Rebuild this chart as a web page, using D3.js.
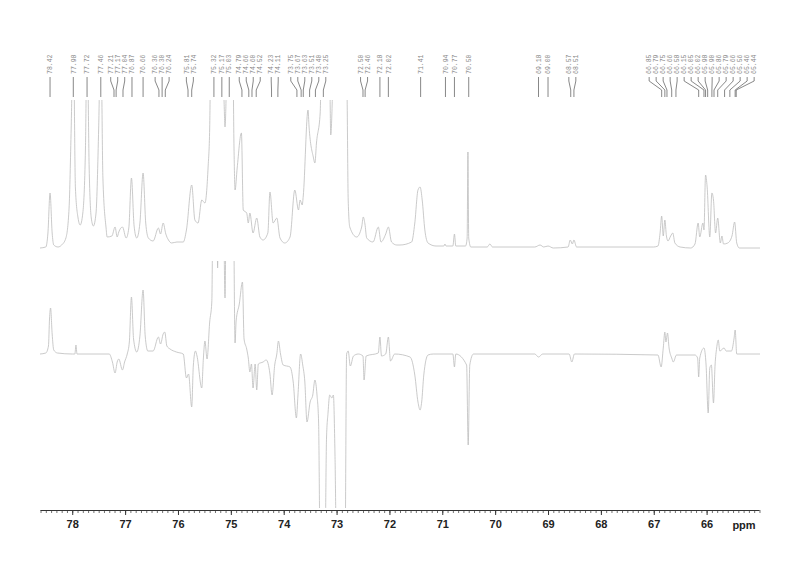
<!DOCTYPE html>
<html><head><meta charset="utf-8">
<script src="https://cdn.jsdelivr.net/npm/d3@7"></script>
<style>body{margin:0;background:#fff}</style>
</head><body>
<svg id="c" width="800" height="565"></svg>
<script>
const peakLabels = [78.42,77.98,77.72,77.46,77.21,77.17,77.04,76.87,76.66,76.36,76.30,76.24,75.81,75.74,
  75.32,75.17,75.03,74.79,74.66,74.60,74.52,74.23,74.11,73.75,73.67,73.63,73.51,73.40,73.25,
  72.50,72.46,72.18,72.02,71.41,70.94,70.77,70.50,69.18,69.00,68.57,68.51,
  66.85,66.79,66.75,66.66,66.58,66.15,66.05,66.02,65.98,65.90,65.86,65.79,65.66,65.56,65.46,65.44];
const majorTicks = [78,77,76,75,74,73,72,71,70,69,68,67,66];
const axisUnit = "ppm";

// upper spectrum: [ppm, intensity]
const topTrace = [[78.61,0],[78.50,1],[78.46,15],[78.42,55],[78.38,15],[78.35,3],[78.27,1],[78.20,3],[78.12,10],[78.06,40],[78.02,120],[77.98,220],[77.94,60],[77.89,30],[77.85,23],[77.80,35],[77.75,100],[77.72,220],[77.68,80],[77.64,30],[77.60,22],[77.55,35],[77.50,120],[77.46,220],[77.42,70],[77.36,20],[77.34,11],[77.25,12],[77.19,21],[77.15,11],[77.12,16],[77.05,21],[76.98,10],[76.93,20],[76.88,70],[76.83,22],[76.78,10],[76.72,25],[76.66,75],[76.61,25],[76.56,10],[76.47,7],[76.37,20],[76.33,14],[76.28,25],[76.23,14],[76.18,8],[76.12,5],[76.02,6],[75.90,6],[75.84,18],[75.74,63],[75.68,28],[75.62,25],[75.55,48],[75.49,45],[75.43,81],[75.40,120],[75.36,300],[75.22,300],[75.13,150],[75.11,121],[75.09,150],[75.05,300],[74.98,300],[74.94,100],[74.92,58],[74.88,80],[74.80,115],[74.765,38],[74.70,35],[74.67,25],[74.64,35],[74.58,15],[74.51,30],[74.45,11],[74.39,8],[74.30,15],[74.26,56],[74.20,25],[74.13,30],[74.07,10],[73.98,5],[73.88,11],[73.79,58],[73.72,38],[73.69,48],[73.65,43],[73.63,52],[73.54,138],[73.52,121],[73.44,91],[73.41,85],[73.38,105],[73.31,135],[73.26,300],[73.14,300],[73.12,140],[73.11,113],[73.08,150],[73.03,300],[72.84,300],[72.80,150],[72.78,48],[72.75,21],[72.62,11],[72.525,21],[72.495,31],[72.463,24],[72.43,10],[72.31,6],[72.21,21],[72.16,6],[72.07,14],[72.02,21],[71.96,6],[71.86,3],[71.80,3],[71.58,6],[71.52,25],[71.46,58],[71.42,61],[71.38,48],[71.33,18],[71.27,5],[71.12,2],[70.97,2],[70.95,4],[70.93,2],[70.80,2],[70.77,14],[70.745,2],[70.56,2],[70.53,10],[70.515,96],[70.50,10],[70.46,1],[70.15,1],[70.10,4],[70.05,1],[69.25,1],[69.15,3],[69.08,1],[69.00,2],[68.90,0],[68.62,1],[68.58,8],[68.54,4],[68.51,8],[68.46,1],[67.00,1],[66.92,2],[66.88,15],[66.85,32],[66.82,12],[66.79,28],[66.76,12],[66.73,7],[66.68,12],[66.64,15],[66.60,5],[66.50,1],[66.30,0],[66.22,4],[66.16,25],[66.13,11],[66.07,25],[66.05,18],[66.02,73],[65.99,61],[65.94,11],[65.90,55],[65.87,48],[65.83,15],[65.79,30],[65.74,5],[65.71,12],[65.68,4],[65.60,5],[65.52,12],[65.47,26],[65.43,5],[65.38,0],[64.99,0]];

// lower spectrum: [ppm, intensity]
const bottomTrace = [[78.61,0],[78.50,1],[78.45,8],[78.43,35],[78.41,46],[78.38,20],[78.35,4],[78.28,1],[78.00,0],[77.95,0],[77.93,9],[77.91,0],[77.30,0],[77.24,-8],[77.19,-19],[77.15,-8],[77.12,-5],[77.05,-16],[77.01,-8],[76.96,0],[76.92,12],[76.88,57],[76.84,15],[76.78,2],[76.72,18],[76.66,64],[76.62,18],[76.57,3],[76.47,3],[76.37,17],[76.33,10],[76.28,20],[76.25,22],[76.21,8],[76.15,5],[76.03,2],[75.90,0],[75.84,-24],[75.80,-20],[75.74,-53],[75.71,-12],[75.67,3],[75.64,-2],[75.55,-34],[75.52,-5],[75.49,13],[75.45,-5],[75.40,32],[75.36,52],[75.33,200],[75.27,200],[75.25,86],[75.23,200],[75.15,200],[75.11,56],[75.08,200],[74.96,200],[74.92,11],[74.90,33],[74.84,50],[74.78,72],[74.75,15],[74.70,5],[74.67,-4],[74.64,-18],[74.61,-10],[74.58,-34],[74.54,-10],[74.51,-36],[74.48,-10],[74.39,-8],[74.33,-6],[74.26,-20],[74.22,-41],[74.17,-11],[74.13,0],[74.10,13],[74.06,0],[74.01,-11],[73.88,-13],[73.82,-28],[73.76,-64],[73.73,-41],[73.68,0],[73.64,-11],[73.60,-28],[73.56,-68],[73.50,-48],[73.45,-41],[73.41,-26],[73.37,-41],[73.34,-68],[73.31,-200],[73.22,-200],[73.19,-84],[73.16,-58],[73.13,-41],[73.09,-44],[73.06,-41],[73.03,-100],[73.00,-200],[72.84,-200],[72.81,0],[72.78,3],[72.74,-12],[72.68,-2],[72.59,0],[72.50,-2],[72.48,-26],[72.44,-2],[72.21,1],[72.18,17],[72.15,-2],[72.07,0],[72.02,17],[71.98,-7],[71.90,0],[71.61,-3],[71.52,-21],[71.46,-48],[71.42,-56],[71.39,-48],[71.35,-21],[71.27,-1],[71.17,0],[70.80,0],[70.77,-13],[70.745,0],[70.54,-11],[70.51,-91],[70.48,-11],[70.41,0],[69.25,0],[69.18,-3],[69.10,0],[68.60,0],[68.55,-8],[68.50,0],[66.92,-1],[66.86,-13],[66.82,6],[66.79,22],[66.77,12],[66.74,21],[66.71,6],[66.66,-4],[66.63,-8],[66.57,-1],[66.22,-1],[66.17,-4],[66.15,-23],[66.13,-4],[66.05,6],[66.01,-11],[65.97,-59],[65.94,-14],[65.91,-11],[65.87,-49],[65.84,-11],[65.81,6],[65.78,14],[65.75,3],[65.67,6],[65.63,3],[65.53,3],[65.48,16],[65.46,24],[65.43,0],[64.99,0]];

const svg = d3.select("#c");
const x = d3.scaleLinear().domain([78.61, 64.99]).range([40, 760]);
const yTop = d3.scaleLinear().domain([0, 148]).range([248, 100]);
const yBot = d3.scaleLinear().domain([0, 93]).range([354, 261]);

const defs = svg.append("defs");
defs.append("clipPath").attr("id","clipTop").append("rect").attr("x",40).attr("y",100).attr("width",720).attr("height",160);
defs.append("clipPath").attr("id","clipBot").append("rect").attr("x",40).attr("y",261).attr("width",720).attr("height",247);

const lineTop = d3.line().x(d => x(d[0])).y(d => yTop(d[1])).curve(d3.curveMonotoneX);
const lineBot = d3.line().x(d => x(d[0])).y(d => yBot(d[1])).curve(d3.curveMonotoneX);

svg.append("path").datum(topTrace).attr("d", lineTop).attr("clip-path","url(#clipTop)")
  .attr("fill","none").attr("stroke","#bdbdbd").attr("stroke-width",0.8);
svg.append("path").datum(bottomTrace).attr("d", lineBot).attr("clip-path","url(#clipBot)")
  .attr("fill","none").attr("stroke","#bdbdbd").attr("stroke-width",0.8);

// axis
const axisY = 510;
const minor = d3.range(650, 787).map(v => v / 10).filter(v => v <= 78.6 && v >= 65.0);
const gMinor = svg.append("g").attr("transform",`translate(0,${axisY})`)
  .call(d3.axisBottom(x).tickValues(minor).tickSize(3).tickFormat("").tickSizeOuter(0));
gMinor.select(".domain").remove();
gMinor.selectAll("line").attr("stroke","#333").attr("stroke-width",0.7);
const gMajor = svg.append("g").attr("transform",`translate(0,${axisY})`)
  .call(d3.axisBottom(x).tickValues(majorTicks).tickSize(5).tickFormat(d3.format("d")).tickSizeOuter(0));
gMajor.select(".domain").attr("stroke","#333").attr("d","M40.5,0.5H759.5");
gMajor.selectAll("line").attr("stroke","#333");
gMajor.selectAll("text").attr("font-family","Liberation Sans, Arial, sans-serif")
  .attr("font-weight","bold").attr("font-size","11px").attr("fill","#222").attr("dy","0.9em");
svg.append("text").attr("x",744).attr("y",axisY+19).attr("text-anchor","middle")
  .attr("font-family","Liberation Sans, Arial, sans-serif").attr("font-weight","bold")
  .attr("font-size","11px").attr("fill","#222").text(axisUnit);

// peak label layout: clustered spreading with minimum spacing
const gap = 7;
const items = peakLabels.map(p => ({p, px: x(p)})).sort((a,b) => a.px - b.px);
let clusters = items.map(it => ({members:[it], center: it.px}));
let changed = true;
while (changed) {
  changed = false;
  for (let i = 0; i < clusters.length - 1; i++) {
    const a = clusters[i], b = clusters[i+1];
    const aRight = a.center + (a.members.length - 1) * gap / 2;
    const bLeft = b.center - (b.members.length - 1) * gap / 2;
    if (bLeft - aRight < gap) {
      const m = a.members.concat(b.members);
      const c = d3.mean(m, d => d.px);
      clusters.splice(i, 2, {members: m, center: c});
      changed = true; break;
    }
  }
}
clusters.forEach(c => {
  const start = c.center - (c.members.length - 1) * gap / 2;
  c.members.forEach((m, i) => m.lx = start + i * gap);
});

const gl = svg.append("g");
gl.selectAll("path").data(items).join("path")
  .attr("d", d => `M${d.lx},77V81L${d.px},90V97`)
  .attr("fill","none").attr("stroke","#555").attr("stroke-width",0.7);
gl.selectAll("text").data(items).join("text")
  .attr("transform", d => `translate(${d.lx + 2.2},74) rotate(-90)`)
  .attr("font-family","Liberation Mono, DejaVu Sans Mono, monospace")
  .attr("font-size","6.5px").attr("fill","#888")
  .text(d => d.p.toFixed(2));
</script>
</body></html>
